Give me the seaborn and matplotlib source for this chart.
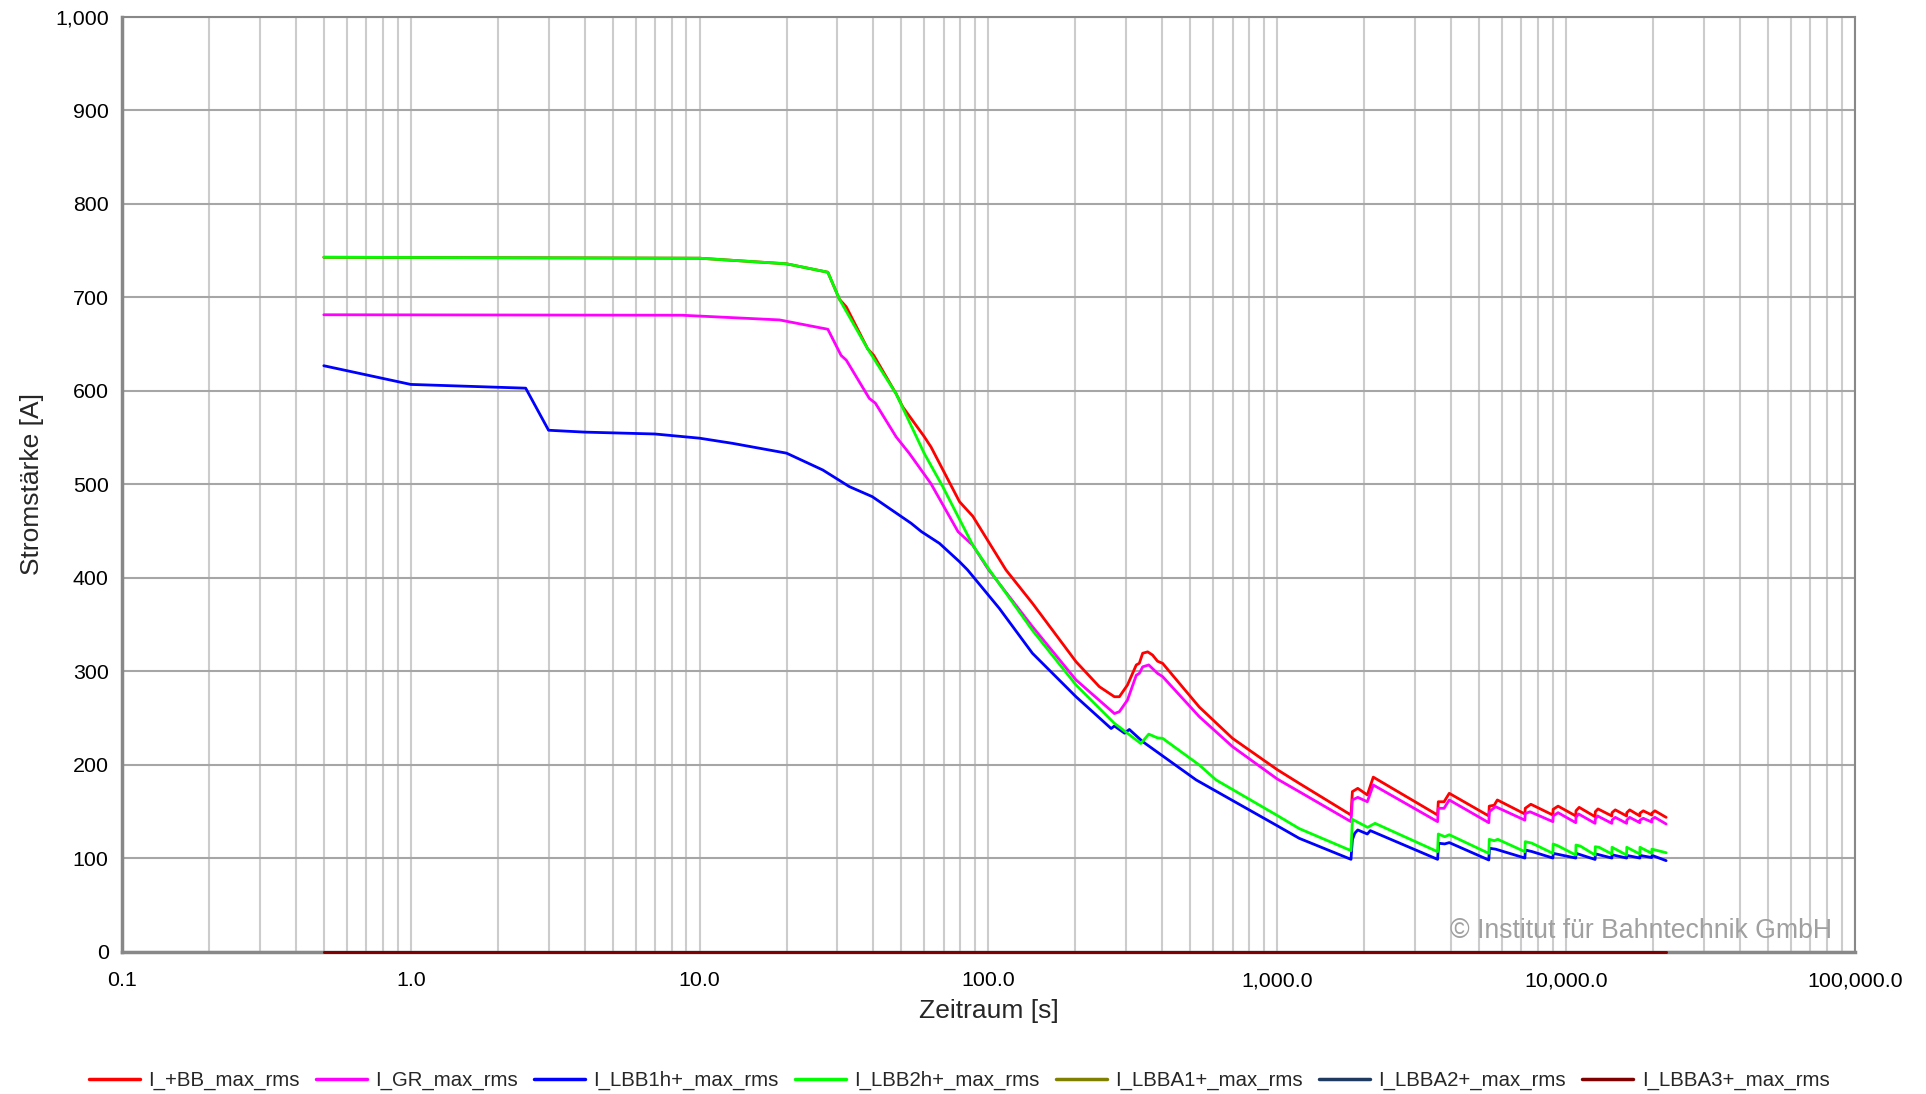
import numpy as np
import pandas as pd
import seaborn as sns
import matplotlib
matplotlib.use("Agg")
import matplotlib.pyplot as plt
from matplotlib.ticker import FuncFormatter, LogLocator, MultipleLocator

# time axis values [s] and currents [A]
t_bb = [0.5, 10, 20, 27.8, 30.5, 32.2, 38.2, 40.1, 47.9, 50.5, 60, 63.3, 79.4, 88.3, 115, 142,
        201, 242, 273, 284, 303, 325, 333, 342, 356, 370, 385, 401, 537, 700, 1000, 1191,
        1800, 1820, 1900, 2050, 2150, 3590, 3610, 3780, 3940, 5400, 5420, 5640, 5780,
        7200, 7220, 7550, 9000, 9020, 9380, 10800, 10820, 11100, 12600, 12620, 12900,
        14400, 14420, 14800, 16200, 16220, 16600, 18000, 18020, 18500, 19800, 19820, 20300, 22200]
i_bb = [743, 742, 736, 727, 698, 690, 645, 638, 597, 583, 551, 540, 481.6, 466, 408.6, 373,
        310.5, 283.8, 273, 273, 285.6, 307, 308.8, 319.5, 321, 317.6, 311, 308.7, 262, 228.5, 195, 180.4,
        146.5, 171.5, 175, 168, 187, 146.5, 160.7, 160.7, 169.7, 145.5, 156, 157, 162.6,
        147.6, 153.7, 158, 146.5, 152.6, 156, 145.5, 151, 154.7, 144.7, 150, 153,
        145.5, 149, 152, 145.5, 149, 152, 145.5, 148.5, 151, 146.5, 148.5, 151, 144]

t_gr = [0.5, 8.7, 18.9, 27.8, 30.9, 32.2, 38.7, 40.6, 47.9, 53.3, 63.2, 78.5, 88.3, 99.5, 109, 142,
        201, 273, 284, 303, 325, 333, 342, 359, 385, 401, 537, 700, 1000, 1191,
        1800, 1820, 1900, 2050, 2150, 3590, 3610, 3780, 3940, 5400, 5420, 5700,
        7200, 7220, 7500, 9000, 9020, 9380, 10800, 10820, 11050, 12600, 12620, 12850,
        14400, 14420, 14800, 16200, 16220, 16600, 18000, 18020, 18500, 19800, 19820, 20300, 22200]
i_gr = [681.5, 681, 676, 666, 638, 633, 592, 587, 551, 533, 501, 449.5, 435, 410, 394, 348,
        291, 255, 257, 269.5, 296, 298, 305, 307, 298, 294.5, 251.7, 219.6, 185, 171.5,
        139.4, 162.6, 165.4, 160.7, 178.6, 139.4, 153.7, 153.7, 162.6, 138.3, 150, 155.4,
        141, 148, 150, 139.4, 145.5, 149, 138.3, 144, 147.6, 137.6, 142, 145.5,
        137.6, 141, 144, 137.6, 141, 144, 138.3, 141, 143, 139, 142, 144, 136.9]

t_lbb1 = [0.5, 1.0, 2.5, 3.0, 4, 7, 10, 13, 20, 26.7, 33, 39.6, 54, 58.6, 67.7, 79.4, 84.7, 109,
          142, 201, 266, 273, 296, 307.5, 342, 524, 1000, 1191,
          1800, 1820, 1855, 1900, 2050, 2100, 3590, 3620, 3800, 3940, 5400, 5430, 5700,
          7200, 7230, 7600, 9000, 9030, 10800, 10830, 12600, 12630, 14400, 14430,
          16200, 16230, 18000, 18030, 19800, 19850, 22200]
i_lbb1 = [627, 607, 603, 558, 556, 554, 549.5, 544, 533.5, 515.5, 497.7, 487, 458.5, 449.6, 437, 417.4, 408.6, 367.6,
          319.5, 273, 239, 241.7, 234, 238, 225, 184, 135, 121.6,
          99.1, 120, 127, 130.5, 126.2, 129.8, 99.1, 116.3, 115.6, 117, 98.4, 110.9, 110,
          100.5, 109, 107.5, 100.5, 105.5, 100.5, 105.5, 99, 105, 100.5, 104,
          100.5, 103.3, 100.5, 103.3, 101, 103.3, 97.7]

t_lbb2 = [0.5, 10, 20, 27.8, 30.5, 38.2, 47.9, 60, 69.5, 88.3, 100.8, 142, 201, 273, 337, 359, 385, 401,
          537, 614, 1000, 1191,
          1800, 1820, 2054, 2180, 3590, 3610, 3800, 3940, 5400, 5420, 5640, 5800,
          7200, 7220, 7600, 9000, 9020, 9380, 10800, 10820, 11200, 12600, 12620, 13000,
          14400, 14420, 16200, 16220, 18000, 18020, 19800, 19820, 22200]
i_lbb2 = [743, 742, 736, 727, 698, 645, 597, 533, 497.6, 435, 408.6, 344, 285.6, 244.6, 223, 233, 229, 228.5,
          200, 184, 146, 132,
          108.4, 141.9, 133.3, 137.6, 107.3, 126.2, 123.3, 125.4, 105.5, 120.5, 119, 120.5,
          107.3, 118, 116.5, 105.5, 115.5, 113.5, 103.7, 114.4, 113.3, 103.7, 112.6, 112,
          104.8, 112, 103.7, 112, 104.8, 112, 105.5, 110, 106.2]

t_zero = [0.5, 22200]
i_zero = [0, 0]

names = ["I_+BB_max_rms", "I_GR_max_rms", "I_LBB1h+_max_rms", "I_LBB2h+_max_rms",
         "I_LBBA1+_max_rms", "I_LBBA2+_max_rms", "I_LBBA3+_max_rms"]
colors = ["#ff0000", "#ff00ff", "#0000ff", "#00ff00", "#808000", "#1f3a60", "#800000"]

series = [(t_bb, i_bb), (t_gr, i_gr), (t_lbb1, i_lbb1), (t_lbb2, i_lbb2),
          (t_zero, i_zero), (t_zero, i_zero), (t_zero, i_zero)]
frames = []
for name, (t, i) in zip(names, series):
    frames.append(pd.DataFrame({"Zeit": t, "Strom": i, "Signal": name}))
df = pd.concat(frames, ignore_index=True)

sns.set_style("white")
plt.rcParams["font.family"] = ["Liberation Sans", "DejaVu Sans"]

fig = plt.figure(figsize=(19.26, 10.94), dpi=100)
ax = fig.add_axes([0.0633, 0.1298, 0.8998, 0.8547])

sns.lineplot(data=df, x="Zeit", y="Strom", hue="Signal", hue_order=names,
             palette=dict(zip(names, colors)), estimator=None, sort=False,
             linewidth=2.0, ax=ax)
for line in ax.get_lines():
    line.set_zorder(3)
    line.set_clip_on(False)

ax.set_xscale("log")
ax.set_xlim(0.1, 100000)
ax.set_ylim(0, 1000)
ax.xaxis.set_major_locator(LogLocator(base=10, numticks=10))
ax.xaxis.set_minor_locator(LogLocator(base=10, subs=np.arange(2, 10), numticks=100))
ax.yaxis.set_major_locator(MultipleLocator(100))
ax.yaxis.set_minor_locator(MultipleLocator(20))
ax.xaxis.set_major_formatter(FuncFormatter(lambda v, p: f"{v:,.1f}"))
ax.xaxis.set_minor_formatter(FuncFormatter(lambda v, p: ""))
ax.yaxis.set_major_formatter(FuncFormatter(lambda v, p: f"{v:,.0f}"))

ax.grid(which="both", axis="x", color="#cccccc", linewidth=1.5)
ax.grid(which="major", axis="y", color="#a6a6a6", linewidth=1.5)
ax.set_axisbelow(True)

for side in ["left", "bottom"]:
    ax.spines[side].set_color("#888888")
    ax.spines[side].set_linewidth(2.5)
for side in ["top", "right"]:
    ax.spines[side].set_color("#888888")
    ax.spines[side].set_linewidth(1.5)
ax.tick_params(which="major", direction="out", length=6, width=1.2, color="#888888",
               labelsize=15.4, labelcolor="black")
ax.tick_params(which="minor", direction="out", length=4, width=1.0, color="#888888")
ax.tick_params(axis="x", which="major", pad=8)

ax.set_xlabel("Zeitraum [s]", fontsize=19, labelpad=6)
ax.set_ylabel("Stromstärke [A]", fontsize=19, labelpad=8)

ax.text(0.9865, 0.0155, "© Institut für Bahntechnik GmbH", transform=ax.transAxes,
        ha="right", va="baseline", fontsize=19.2, color="#a0a0a0")

sns.move_legend(ax, "center", bbox_to_anchor=(0.498, 0.012), bbox_transform=fig.transFigure,
                ncol=7, frameon=False, title=None, fontsize=14.7, handlelength=2.5,
                handletextpad=0.4, columnspacing=0.8)
for line in ax.get_legend().get_lines():
    line.set_linewidth(2.5)

fig.savefig("out.png", dpi=100)
